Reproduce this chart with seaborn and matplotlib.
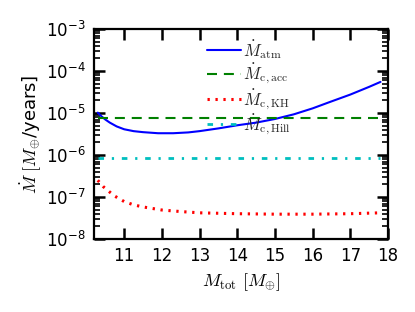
import numpy as np
import pandas as pd
import matplotlib
matplotlib.use('Agg')
import matplotlib.pyplot as plt
import matplotlib.ticker as mticker
import seaborn as sns

# Values
m_atm = [10.3, 10.4, 10.5, 10.62, 10.8, 11.0, 11.25, 11.5, 11.9, 12.3, 12.7,
         13.0, 13.5, 14.0, 14.5, 15.0, 15.5, 16.0, 16.45, 17.0, 17.5, 17.8]
mdot_atm = [1.02e-5, 8.3e-6, 7.0e-6, 5.9e-6, 4.8e-6, 4.1e-6, 3.7e-6, 3.5e-6,
            3.3e-6, 3.3e-6, 3.45e-6, 3.7e-6, 4.3e-6, 5.1e-6, 5.9e-6, 7.2e-6,
            9.3e-6, 1.29e-5, 1.82e-5, 2.75e-5, 4.2e-5, 5.5e-5]
m_kh = [10.3, 10.45, 10.6, 10.75, 11.0, 11.25, 11.5, 12.0, 12.5, 13.0, 14.0,
        15.0, 16.0, 17.0, 17.8]
mdot_kh = [2.5e-7, 1.75e-7, 1.35e-7, 1.05e-7, 7.8e-8, 6.5e-8, 5.8e-8, 4.9e-8,
           4.5e-8, 4.2e-8, 4.0e-8, 3.9e-8, 3.9e-8, 4.0e-8, 4.2e-8]
m_const = [10.3, 17.8]
mdot_acc = [7.5e-6, 7.5e-6]
mdot_hill = [8.5e-7, 8.5e-7]
x_ticks = [11, 12, 13, 14, 15, 16, 17, 18]

df_atm = pd.DataFrame({'M': m_atm, 'Mdot': mdot_atm})
df_kh = pd.DataFrame({'M': m_kh, 'Mdot': mdot_kh})
df_c = pd.DataFrame({'M': m_const, 'acc': mdot_acc, 'hill': mdot_hill})

sns.set_style("ticks")
plt.rcParams['font.family'] = ['DejaVu Sans']
plt.rcParams['mathtext.fontset'] = 'cm'

fig = plt.figure(figsize=(4.15, 3.12), dpi=100)
ax = fig.add_axes([0.2265, 0.234, 0.7085, 0.673])

sns.lineplot(data=df_atm, x='M', y='Mdot', ax=ax, color='b', lw=1.5,
             label=r'$\dot{M}_{\rm atm}$')
sns.lineplot(data=df_c, x='M', y='acc', ax=ax, color='g', lw=1.5,
             linestyle=(0, (4.8, 3.3)), label=r'$\dot{M}_{\rm c,acc}$')
sns.lineplot(data=df_kh, x='M', y='Mdot', ax=ax, color='r', lw=2.2,
             linestyle=(0, (0.75, 1.85)), label=r'$\dot{M}_{\rm c,KH}$')
sns.lineplot(data=df_c, x='M', y='hill', ax=ax, color='c', lw=2,
             linestyle=(0, (2, 2.8, 0.8, 2.8)), label=r'$\dot{M}_{\rm c,Hill}$')

ax.set_yscale('log')
ax.set_xlim(10.2, 18)
ax.set_ylim(1e-8, 1e-3)
ax.xaxis.set_major_locator(mticker.FixedLocator(x_ticks))
ax.yaxis.set_minor_locator(mticker.LogLocator(base=10, subs=np.arange(2, 10), numticks=20))
ax.yaxis.set_minor_formatter(mticker.NullFormatter())

# classic inward ticks on all four sides
ax.tick_params(which='both', direction='in', color='black',
               top=True, bottom=True, left=True, right=True,
               labelcolor='black', labelsize=12)
ax.tick_params(which='major', length=8, width=1.8, pad=6)
ax.tick_params(which='minor', length=4, width=1.2)
for s in ax.spines.values():
    s.set_linewidth(1.6)
    s.set_color('black')
    s.set_zorder(1)

ax.set_xlabel(r'$M_{\rm tot}\ [M_{\oplus}]$', fontsize=13, labelpad=4, color='black')
ax.set_ylabel(r'$\dot{M}\ [M_{\oplus}$/years]', fontsize=13, labelpad=2, color='black')

leg = ax.legend(loc='upper right', bbox_to_anchor=(0.70, 1.0), frameon=False,
                fontsize=12, handlelength=2.0, labelspacing=0.05,
                borderaxespad=0.15, handletextpad=0.15)

fig.savefig('out.png', dpi=100)
